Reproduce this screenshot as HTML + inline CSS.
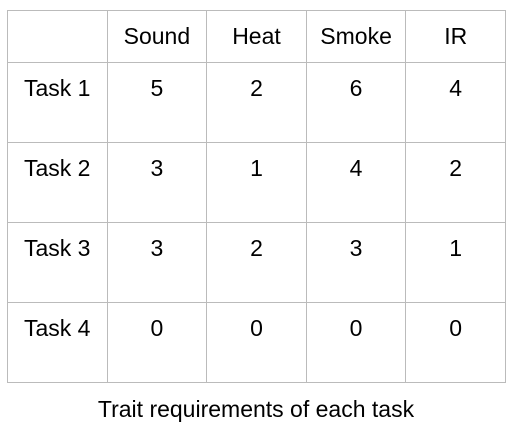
<!DOCTYPE html>
<html><head><meta charset="utf-8"><style>
body{margin:0;width:512px;height:433px;background:#fff;position:relative;font-family:"Liberation Sans",sans-serif;color:#000;overflow:hidden}
table{position:absolute;left:7px;top:10px;width:499px;table-layout:fixed;border-collapse:collapse;font-size:23px}
td{border:1px solid #bbb;padding:0;vertical-align:top;text-align:center}
tr.h td{height:51px;vertical-align:middle}
tr.r td{height:80px;padding-top:12px;box-sizing:border-box;line-height:26px}
td.l{text-align:left;padding-left:16px}
.cap{position:absolute;left:0;width:512px;top:396px;text-align:center;font-size:23px}
</style></head><body>
<table>
<tr class="h"><td></td><td>Sound</td><td>Heat</td><td>Smoke</td><td>IR</td></tr>
<tr class="r"><td class="l">Task 1</td><td>5</td><td>2</td><td>6</td><td>4</td></tr>
<tr class="r"><td class="l">Task 2</td><td>3</td><td>1</td><td>4</td><td>2</td></tr>
<tr class="r"><td class="l">Task 3</td><td>3</td><td>2</td><td>3</td><td>1</td></tr>
<tr class="r"><td class="l">Task 4</td><td>0</td><td>0</td><td>0</td><td>0</td></tr>
</table>
<div class="cap">Trait requirements of each task</div>
</body></html>
